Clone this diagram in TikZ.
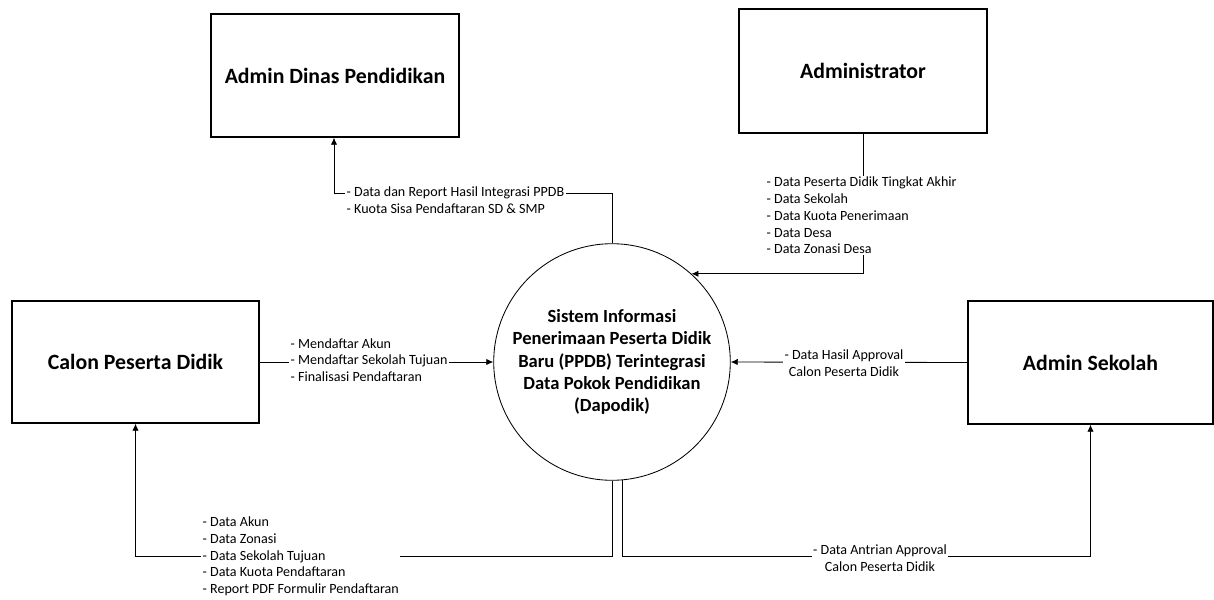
\documentclass[tikz,border=0pt]{standalone}
\usepackage{fontspec}
\setmainfont{Carlito}
\usepackage{tikz}
\usetikzlibrary{arrows.meta,positioning,calc}
\tikzstyle{entity} = [draw, line width=0.9pt, font=\fontsize{15.5}{18}\selectfont\bfseries]
\tikzstyle{process} = [draw, circle, line width=0.6pt, minimum size=5.5cm, align=center, font=\fontsize{13.2}{15.8}\selectfont\bfseries]
\tikzstyle{flow} = [line width=0.6pt, -{Latex[length=5pt,width=4.5pt]}]
\tikzstyle{datalabel} = [fill=white, inner sep=1pt, font=\fontsize{10}{11.9}\selectfont]

\begin{document}
\begin{tikzpicture}[x=0.025cm, y=-0.025cm]
    \useasboundingbox (0,0) rectangle (1214,599);

    % External entities
    \node[entity, minimum width=6.2cm, minimum height=3.075cm] (dinas) at (335,75.5) {Admin Dinas Pendidikan};
    \node[entity, minimum width=6.2cm, minimum height=3.1cm] (admin) at (863,71) {Administrator};
    \node[entity, minimum width=6.175cm, minimum height=3.05cm] (calon) at (135.5,362) {Calon Peserta Didik};
    \node[entity, minimum width=6.125cm, minimum height=3.075cm] (sekolah) at (1090.5,362.5) {Admin Sekolah};

    % Process
    \node[process] (sistem) at (612,362) {Sistem Informasi\\Penerimaan Peserta Didik\\Baru (PPDB) Terintegrasi\\Data Pokok Pendidikan\\(Dapodik)};

    % Bend points
    \coordinate (toprow) at (334,193);
    \coordinate (lowrow) at (0,556);

    % Data flows
    \draw[flow] (sistem.north) |- (toprow) -- (toprow |- dinas.south);
    \draw[flow] (admin.south) |- (sistem.48.6);
    \draw[flow] (calon.east) -- (sistem.west);
    \draw[flow] (sekolah.west) -- (sistem.east);
    \draw[flow] (sistem.south) |- (calon.south |- lowrow) -- (calon.south);
    \draw[flow] (sistem.-85.3) |- (sekolah.south |- lowrow) -- (sekolah.south);

    % Labels
    \node[datalabel, anchor=west, align=left] (lbldinas) at (345,200) {- Data dan Report Hasil Integrasi PPDB\\- Kuota Sisa Pendaftaran SD \& SMP};
    \node[datalabel, anchor=west, align=left] (lbladmin) at (765,215.5) {- Data Peserta Didik Tingkat Akhir\\- Data Sekolah\\- Data Kuota Penerimaan\\- Data Desa\\- Data Zonasi Desa};
    \node[datalabel, anchor=west, align=left] (lblcalon) at (289,360) {- Mendaftar Akun\\- Mendaftar Sekolah Tujuan\\- Finalisasi Pendaftaran};
    \node[datalabel, align=center] (lblsekolah) at (844,363) {- Data Hasil Approval\\Calon Peserta Didik};
    \node[datalabel, anchor=west, align=left] (lblhasil) at (201,556.5) {- Data Akun\\- Data Zonasi\\- Data Sekolah Tujuan\\- Data Kuota Pendaftaran\\- Report PDF Formulir Pendaftaran};
    \node[datalabel, align=center] (lblantrian) at (880,558) {- Data Antrian Approval\\Calon Peserta Didik};
\end{tikzpicture}
\end{document}
